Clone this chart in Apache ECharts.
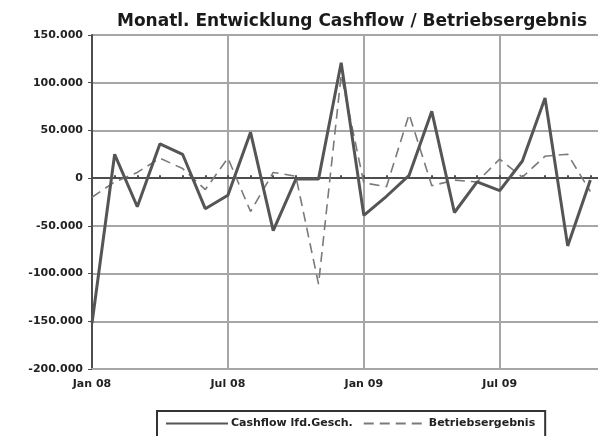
<!DOCTYPE html>
<html>
<head>
<meta charset="utf-8">
<script src="https://cdn.jsdelivr.net/npm/echarts@6/dist/echarts.min.js"></script>
<style>
  html, body { margin: 0; padding: 0; background: #fff; }
  #chart { width: 598px; height: 436px; }
</style>
</head>
<body>
<div id="chart"></div>
<script>
const MONTHS = ['Jan', 'Feb', 'Mär', 'Apr', 'Mai', 'Jun', 'Jul', 'Aug', 'Sep', 'Okt', 'Nov', 'Dez'];
const YEARS = ['08', '09'];
const CATEGORIES = [];
YEARS.forEach((y) => MONTHS.forEach((m) => CATEGORIES.push(`${m} ${y}`)));

// Jan 08 .. Nov 09
const CASHFLOW = [
  -152000, 25000, -30000, 36000, 25000, -32000, -18000, 48000, -55000, -1000, -1000, 121000,
  -39000, -19000, 3000, 70000, -36000, -4000, -13000, 18000, 84000, -71000, -2000,
];
const BETRIEB = [
  -20000, -4000, 6000, 21000, 10000, -12000, 21000, -35000, 6000, 2000, -111000, 108000,
  -5000, -9000, 67000, -8000, -2000, -4000, 20000, 1000, 23000, 25000, -14000,
];

const SERIES_NAMES = ['Cashflow lfd.Gesch.', 'Betriebsergebnis'];
const FONT = '"DejaVu Sans", Verdana, sans-serif';

function formatThousands(value) {
  const sign = value < 0 ? '-' : '';
  const s = String(Math.abs(value)).replace(/\B(?=(\d{3})+(?!\d))/g, '.');
  return sign + s;
}

const chart = echarts.init(document.getElementById('chart'));

chart.setOption({
  animation: false,
  backgroundColor: '#fff',
  title: {
    text: 'Monatl. Entwicklung Cashflow / Betriebsergebnis',
    left: 112,
    top: 8,
    textStyle: { fontFamily: FONT, fontSize: 17, fontWeight: 'bold', color: '#1a1a1a' },
  },
  legend: {
    data: SERIES_NAMES,
    left: 157,
    top: 411,
    padding: [7, 10, 30, 8],
    borderColor: '#333',
    borderWidth: 2,
    itemWidth: 62,
    itemHeight: 12,
    itemGap: 10,
    itemStyle: { opacity: 0 },
    textStyle: { fontFamily: FONT, fontSize: 11, fontWeight: 'bold', color: '#222', padding: [0, 0, 0, -2] },
  },
  grid: { left: 92, width: 521, top: 35, height: 334, outerBoundsMode: 'none' },
  xAxis: [
    {
      type: 'category',
      data: CATEGORIES,
      boundaryGap: false,
      position: 'bottom',
      axisLine: { onZero: false, lineStyle: { color: '#a6a6a6', width: 2 } },
      axisTick: { show: false },
      axisLabel: {
        interval: 5,
        margin: 10,
        fontFamily: FONT,
        fontSize: 11,
        fontWeight: 'bold',
        color: '#222',
      },
      splitLine: {
        show: true,
        interval: (index) => index % 6 === 0,
        lineStyle: { color: '#a6a6a6', width: 2 },
      },
    },
    {
      type: 'category',
      data: CATEGORIES,
      boundaryGap: false,
      position: 'top',
      axisLine: { onZero: true, lineStyle: { color: '#4d4d4d', width: 2 } },
      axisTick: { show: true, interval: 0, length: 3, lineStyle: { color: '#4d4d4d', width: 2 } },
      axisLabel: { show: false },
      splitLine: { show: false },
    },
  ],
  yAxis: {
    type: 'value',
    min: -200000,
    max: 150000,
    interval: 50000,
    axisLine: { show: true, lineStyle: { color: '#4d4d4d', width: 2 } },
    axisTick: { show: true, length: 4, lineStyle: { color: '#4d4d4d', width: 1 } },
    axisLabel: {
      margin: 9,
      formatter: formatThousands,
      fontFamily: FONT,
      fontSize: 11,
      fontWeight: 'bold',
      color: '#222',
    },
    splitLine: { lineStyle: { color: '#a6a6a6', width: 2 } },
  },
  series: [
    {
      name: SERIES_NAMES[1],
      type: 'line',
      data: BETRIEB,
      symbol: 'none',
      z: 3,
      lineStyle: { color: '#7a7a7a', width: 1.6, type: [10, 6] },
      itemStyle: { color: '#7a7a7a' },
    },
    {
      name: SERIES_NAMES[0],
      type: 'line',
      data: CASHFLOW,
      symbol: 'none',
      z: 4,
      lineStyle: { color: '#555', width: 3 },
      itemStyle: { color: '#555' },
    },
  ],
});
</script>
</body>
</html>
